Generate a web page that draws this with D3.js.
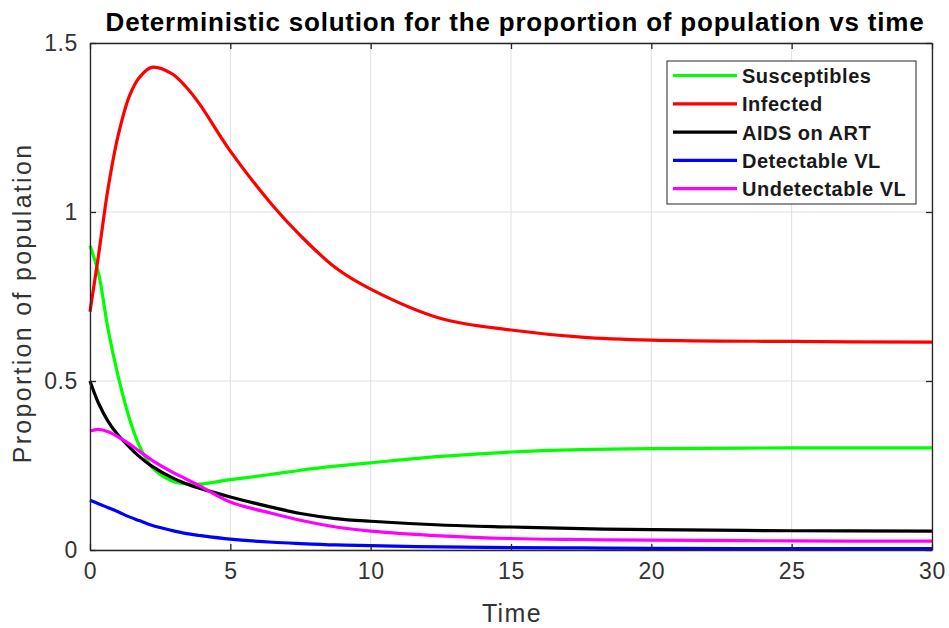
<!DOCTYPE html>
<html>
<head>
<meta charset="utf-8">
<script src="https://cdn.jsdelivr.net/npm/d3@7.9.0/dist/d3.min.js"></script>
<style>
  body { margin: 0; background: #fff; }
  svg { display: block; font-family: Arial, "Liberation Sans", sans-serif; }
</style>
</head>
<body>
<svg id="chart" width="949" height="628"></svg>
<script>
// values
const times = [0, 0.3, 0.65, 1, 1.4, 1.75, 2.2, 2.9, 3.4, 3.9, 5, 6.5, 7.5, 8.75, 10, 12.5, 15, 17.5, 20, 25, 30];

const susceptibles = [0.90, 0.82, 0.65, 0.515, 0.39, 0.31, 0.246, 0.205, 0.196, 0.195, 0.208, 0.224, 0.236, 0.248, 0.258, 0.277, 0.290, 0.297, 0.300, 0.302, 0.302];
const infected = [0.705, 0.87, 1.073, 1.225, 1.342, 1.397, 1.428, 1.41, 1.372, 1.32, 1.18, 1.02, 0.93, 0.835, 0.772, 0.685, 0.651, 0.630, 0.621, 0.617, 0.615];
const aidsOnArt = [0.50, 0.435, 0.38, 0.34, 0.305, 0.277, 0.248, 0.215, 0.197, 0.183, 0.157, 0.126, 0.108, 0.093, 0.085, 0.074, 0.068, 0.063, 0.060, 0.057, 0.056];
const detectableVL = [0.147, 0.137, 0.125, 0.113, 0.098, 0.087, 0.073, 0.058, 0.049, 0.043, 0.032, 0.023, 0.019, 0.015, 0.013, 0.009, 0.007, 0.006, 0.005, 0.004, 0.004];
const undetectableVL = [0.352, 0.357, 0.350, 0.335, 0.314, 0.293, 0.266, 0.232, 0.211, 0.19, 0.142, 0.108, 0.088, 0.068, 0.056, 0.042, 0.034, 0.031, 0.029, 0.027, 0.026];

const seriesNames = ['Susceptibles', 'Infected', 'AIDS on ART', 'Detectable VL', 'Undetectable VL'];
const seriesColors = ['#00ff00', '#ff0000', '#000000', '#0000ff', '#ff00ff'];
const seriesValues = [susceptibles, infected, aidsOnArt, detectableVL, undetectableVL];
const drawOrder = [0, 1, 2, 3, 4];

const xTicks = [0, 5, 10, 15, 20, 25, 30];
const yTicks = [0, 0.5, 1, 1.5];

// ---------- layout ----------
const plotLeft = 90, plotRight = 932, plotTop = 43, plotBottom = 550;
const axisColor = '#262626';

const svg = d3.select('#chart');

const x = d3.scaleLinear().domain([0, 30]).range([plotLeft, plotRight]);
const y = d3.scaleLinear().domain([0, 1.5]).range([plotBottom, plotTop]);

// grid
svg.append('g')
  .selectAll('line')
  .data(xTicks)
  .join('line')
  .attr('x1', (d) => x(d)).attr('x2', (d) => x(d))
  .attr('y1', plotTop).attr('y2', plotBottom)
  .attr('stroke', '#dfdfdf').attr('stroke-width', 1);

svg.append('g')
  .selectAll('line')
  .data(yTicks)
  .join('line')
  .attr('x1', plotLeft).attr('x2', plotRight)
  .attr('y1', (d) => y(d)).attr('y2', (d) => y(d))
  .attr('stroke', '#dfdfdf').attr('stroke-width', 1);

// curves
const line = d3.line()
  .x((d) => x(d[0]))
  .y((d) => y(d[1]))
  .curve(d3.curveCatmullRom.alpha(0.5));

svg.append('g')
  .selectAll('path')
  .data(drawOrder)
  .join('path')
  .attr('d', (i) => line(times.map((t, k) => [t, seriesValues[i][k]])))
  .attr('fill', 'none')
  .attr('stroke', (i) => seriesColors[i])
  .attr('stroke-width', 3.2)
  .attr('stroke-linejoin', 'round');

// axes (MATLAB-like box with inward ticks)
const xAxisB = d3.axisBottom(x).tickValues(xTicks).tickSizeInner(-6).tickSizeOuter(0).tickPadding(13)
  .tickFormat(d3.format('d'));
const gxb = svg.append('g').attr('transform', `translate(0,${plotBottom})`).call(xAxisB);

const xAxisT = d3.axisTop(x).tickValues(xTicks).tickSizeInner(-6).tickSizeOuter(0).tickFormat('');
const gxt = svg.append('g').attr('transform', `translate(0,${plotTop})`).call(xAxisT);

const yAxisL = d3.axisLeft(y).tickValues(yTicks).tickSizeInner(-6).tickSizeOuter(0).tickPadding(12)
  .tickFormat((d) => (d === 0 || d === 1 ? d3.format('d')(d) : d3.format('.1f')(d)));
const gyl = svg.append('g').attr('transform', `translate(${plotLeft},0)`).call(yAxisL);

const yAxisR = d3.axisRight(y).tickValues(yTicks).tickSizeInner(-6).tickSizeOuter(0).tickFormat('');
const gyr = svg.append('g').attr('transform', `translate(${plotRight},0)`).call(yAxisR);

[gxb, gxt, gyl, gyr].forEach((g) => {
  g.select('.domain').attr('stroke', axisColor).attr('stroke-width', 1.3);
  g.selectAll('.tick line').attr('stroke', axisColor).attr('stroke-width', 1.3);
  g.selectAll('.tick text')
    .attr('fill', '#333')
    .style('font-size', '23px')
    .style('letter-spacing', '0.6px')
    .style('font-family', 'Arial, "Liberation Sans", sans-serif');
});

// labels
svg.append('text')
  .attr('x', 512)
  .attr('y', 622)
  .attr('text-anchor', 'middle')
  .attr('fill', '#333')
  .style('font-size', '25px')
  .style('letter-spacing', '1.4px')
  .text('Time');

svg.append('text')
  .attr('transform', `translate(31,303) rotate(-90)`)
  .attr('text-anchor', 'middle')
  .attr('fill', '#333')
  .style('font-size', '25px')
  .style('letter-spacing', '2.3px')
  .text('Proportion of population');

svg.append('text')
  .attr('x', 515)
  .attr('y', 31)
  .attr('text-anchor', 'middle')
  .attr('fill', '#000')
  .style('font-size', '26px')
  .style('font-weight', 'bold')
  .style('letter-spacing', '0.8px')
  .text('Deterministic solution for the proportion of population vs time');

// legend
const legend = svg.append('g');
legend.append('rect')
  .attr('x', 667).attr('y', 61)
  .attr('width', 249).attr('height', 143)
  .attr('fill', '#fff')
  .attr('stroke', axisColor)
  .attr('stroke-width', 1);

const rows = legend.selectAll('g')
  .data(seriesNames)
  .join('g')
  .attr('transform', (d, i) => `translate(0,${75.5 + i * 28.3})`);

rows.append('line')
  .attr('x1', 673).attr('x2', 737)
  .attr('y1', 0).attr('y2', 0)
  .attr('stroke', (d, i) => seriesColors[i])
  .attr('stroke-width', 3.2);

rows.append('text')
  .attr('x', 742)
  .attr('y', 7.5)
  .attr('fill', '#1a1a1a')
  .style('font-size', '20px')
  .style('font-weight', 'bold')
  .style('letter-spacing', '0.5px')
  .text((d) => d);
</script>
</body>
</html>
